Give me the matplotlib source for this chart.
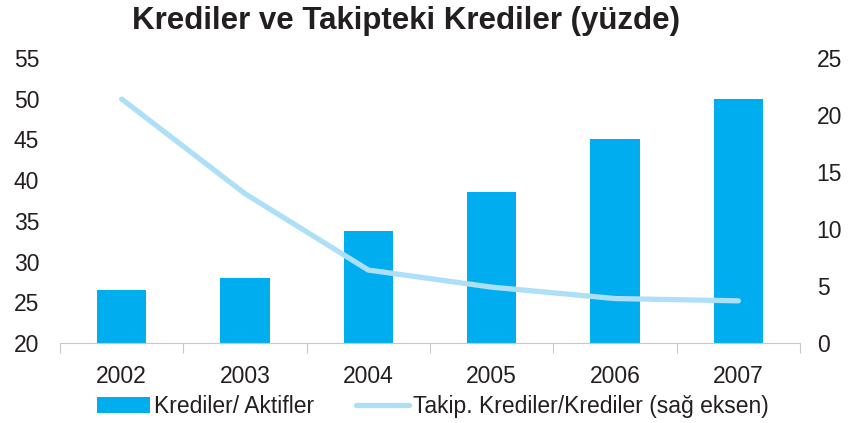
import numpy as np
import matplotlib.pyplot as plt
from matplotlib.ticker import MultipleLocator

plt.rcParams['font.family'] = ['Liberation Sans', 'DejaVu Sans']

years = ['2002', '2003', '2004', '2005', '2006', '2007']
krediler_aktifler = [26.5, 28.0, 33.7, 38.6, 45.0, 50.0]
takip_krediler = [21.4, 13.1, 6.4, 4.9, 3.9, 3.7]

bar_color = '#00aeef'
line_color = '#ade0f7'
text_color = '#231f20'

fig = plt.figure(figsize=(8.49, 4.23), dpi=100)
ax = fig.add_axes([60 / 849, 1 - 343 / 423, 740 / 849, 285 / 423])
ax2 = ax.twinx()

x = np.arange(len(years))
bars = ax.bar(x, np.array(krediler_aktifler) - 20, bottom=20, width=0.4,
              color=bar_color, label='Krediler/ Aktifler', zorder=2)
line, = ax2.plot(x, takip_krediler, color=line_color, lw=3.8,
                 solid_capstyle='round', label='Takip. Krediler/Krediler (sağ eksen)')

ax.set_xlim(-0.5, len(years) - 0.5)
ax.set_ylim(20, 55)
ax.yaxis.set_major_locator(MultipleLocator(5))
ax2.set_ylim(0, 25)
ax2.yaxis.set_major_locator(MultipleLocator(5))

# category boundary ticks on the x axis
ax.set_xticks(np.arange(-0.5, len(years)), minor=False)
ax.set_xticklabels([])
ax.set_xticks(x, minor=True)
ax.set_xticklabels(years, minor=True)
ax.tick_params(axis='x', which='major', length=7, color='#c8c8c8', direction='out')
ax.tick_params(axis='x', which='minor', length=0, pad=16, labelsize=16.5, labelcolor=text_color)
ax.tick_params(axis='y', length=0, pad=15, labelsize=16.5, labelcolor=text_color)
ax2.tick_params(axis='y', length=0, pad=12, labelsize=16.5, labelcolor=text_color)

for a in (ax, ax2):
    for side in ('top', 'left', 'right'):
        a.spines[side].set_visible(False)
    a.spines['bottom'].set_color('#c8c8c8')
ax2.spines['bottom'].set_visible(False)

fig.suptitle('Krediler ve Takipteki Krediler (yüzde)', fontsize=22.5, fontweight='bold',
             y=0.985, x=0.478, color=text_color)

fig.legend(handles=[bars, line], loc='lower center', ncol=2, frameon=False,
           fontsize=16.5, bbox_to_anchor=(0.51, -0.037), handlelength=2.3,
           handletextpad=0.2, columnspacing=1.8, labelcolor=text_color)

fig.savefig('out.png', dpi=100)
